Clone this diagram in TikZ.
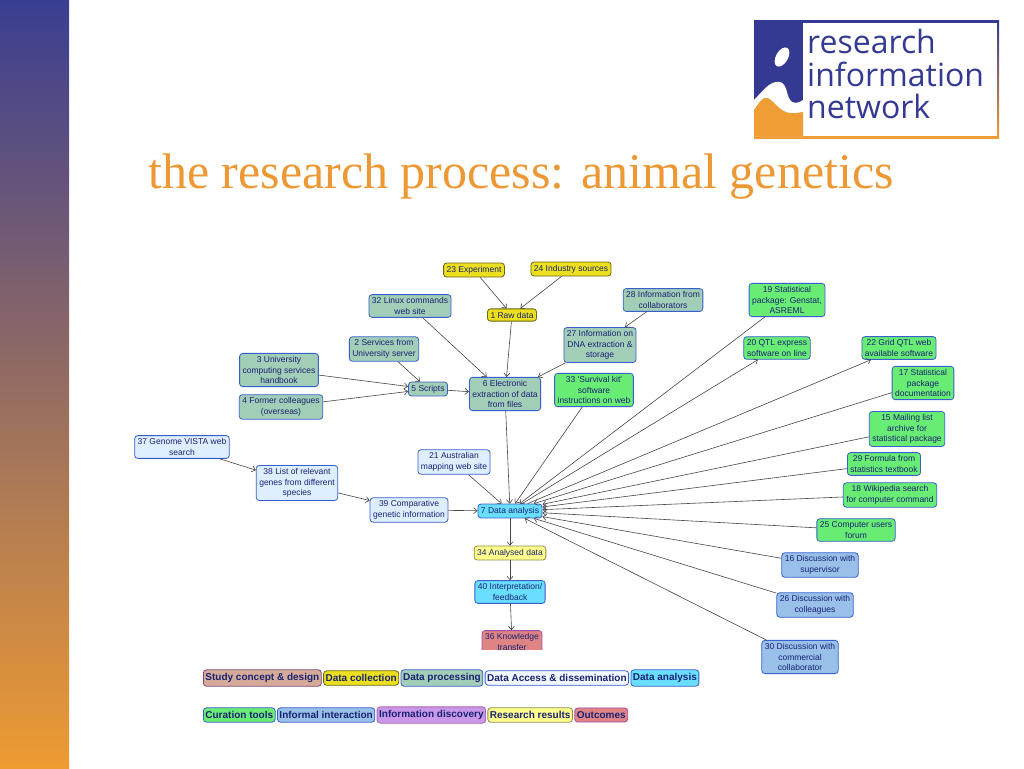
\documentclass[tikz,border=0pt]{standalone}
\usepackage{fontspec}
\setmainfont{Liberation Sans}
\newfontfamily\titlefont{Liberation Serif}
\newfontfamily\logofont{Open Sans}
\usetikzlibrary{positioning,arrows.meta}

\definecolor{barblue}{RGB}{58,62,145}
\definecolor{barorange}{RGB}{238,155,50}
\definecolor{logoblue}{RGB}{52,58,145}
\definecolor{logoorange}{RGB}{238,158,52}
\definecolor{titleorange}{RGB}{236,152,52}
\definecolor{navy}{RGB}{25,35,115}
\definecolor{boxblue}{RGB}{55,95,205}
\definecolor{linkgray}{RGB}{70,70,70}
\definecolor{collectcol}{RGB}{236,224,30}
\definecolor{proccol}{RGB}{162,205,182}
\definecolor{accesscol}{RGB}{222,238,255}
\definecolor{accesslight}{RGB}{242,248,255}
\definecolor{analysiscol}{RGB}{105,222,255}
\definecolor{curationcol}{RGB}{105,236,115}
\definecolor{informalcol}{RGB}{152,192,232}
\definecolor{discoverycol}{RGB}{202,152,232}
\definecolor{resultscol}{RGB}{255,255,140}
\definecolor{outcomecol}{RGB}{222,132,132}
\definecolor{conceptcol}{RGB}{214,170,152}

\begin{document}
\begin{tikzpicture}
  [x=1pt,y=-1pt,
   box/.style={draw=boxblue,rounded corners=3pt,line width=0.8pt,align=center,
     inner xsep=3pt,inner ysep=3pt,text=navy,font=\fontsize{8.5}{10.5}\selectfont},
   collect/.style={box,fill=collectcol,draw=black!55!collectcol},
   proc/.style={box,fill=proccol},
   access/.style={box,fill=accesscol},
   analysis/.style={box,fill=analysiscol},
   curation/.style={box,fill=curationcol},
   informal/.style={box,fill=informalcol},
   results/.style={box,fill=resultscol,draw=black!45!resultscol},
   outcome/.style={box,fill=outcomecol,draw=violet!70},
   key/.style={box,inner xsep=2pt,inner ysep=3.5pt,
     font=\fontsize{10}{12}\selectfont\bfseries},
   link/.style={-{Straight Barb[length=3.5pt,width=6pt]},draw=linkgray,line width=0.6pt}]
  \useasboundingbox (0,0) rectangle (1024,768);
  \fill[white] (0,0) rectangle (1024,768);

  % side bar and logo
  \shade[top color=barblue,bottom color=barorange] (0,0) rectangle (69,768);
  \shade[top color=logoblue,bottom color=logoorange] (754,21) rectangle (999,138);
  \fill[white] (803,23) rectangle (997,136);
  \fill[logoblue] (754,21) rectangle (803,136);
  \fill[white] (754,100) .. controls (762,92) and (770,80) .. (780,82)
    .. controls (788,84) and (786,98) .. (792,102)
    .. controls (796,104) and (800,102) .. (803,100) -- (803,136) -- (754,136) -- cycle;
  \fill[logoorange] (754,110) .. controls (758,104) and (763,96) .. (768,98)
    .. controls (775,102) and (780,112) .. (790,113)
    .. controls (796,114) and (800,112) .. (803,112) -- (803,136) -- (754,136) -- cycle;
  \fill[white,rotate around={-30:(782,57)}] (782,57) ellipse (6 and 10.5);
  \node[anchor=base west,inner sep=0,text=logoblue,font=\logofont\fontsize{32}{34}\selectfont]
    (logo1) at (807,53) {research};
  \node[anchor=base west,inner sep=0,text=logoblue,font=\logofont\fontsize{32}{34}\selectfont]
    (logo2) at (807,86) {information};
  \node[anchor=base west,inner sep=0,text=logoblue,font=\logofont\fontsize{32}{34}\selectfont]
    (logo3) at (807,118) {network};

  % title
  \node[anchor=base west,inner sep=0,text=titleorange,font=\titlefont\fontsize{50}{56}\selectfont]
    (title) at (148,188) {the research process: animal genetics};

  % boxes
  \node[collect] (23) at (474,270) {23 Experiment};
  \node[collect] (24) at (571,269) {24 Industry sources};
  \node[collect] (1) at (512,315) {1 Raw data};
  \node[proc] (32) at (410,306) {32 Linux commands\\web site};
  \node[proc] (28) at (663,300) {28 Information from\\collaborators};
  \node[curation] (19) at (787,300) {19 Statistical\\package: Genstat,\\ASREML};
  \node[proc] (2) at (384,349) {2 Services from\\University server};
  \node[proc] (27) at (600,345) {27 Information on\\DNA extraction \&\\storage};
  \node[curation] (20) at (777,348) {20 QTL express\\software on line};
  \node[curation] (22) at (899,348) {22 Grid QTL web\\available software};
  \node[proc] (3) at (279,370) {3 University\\computing services\\handbook};
  \node[proc] (5) at (428,389) {5 Scripts};
  \node[proc] (6) at (505,394) {6 Electronic\\extraction of data\\from files};
  \node[curation] (33) at (594,390) {33 \textquotesingle Survival kit\textquotesingle\\software\\instructions on web};
  \node[curation] (17) at (923,383) {17 Statistical\\package\\documentation};
  \node[proc] (4) at (281,407) {4 Former colleagues\\(overseas)};
  \node[curation] (15) at (907,429) {15 Mailing list\\archive for\\statistical package};
  \node[access] (37) at (182,447) {37 Genome VISTA web\\search};
  \node[access] (21) at (454,462) {21 Australian\\mapping web site};
  \node[curation] (29) at (884,464) {29 Formula from\\statistics textbook};
  \node[access] (38) at (297,483) {38 List of relevant\\genes from different\\species};
  \node[curation] (18) at (890,495) {18 Wikipedia search\\for computer command};
  \node[access] (39) at (409,510) {39 Comparative\\genetic information};
  \node[analysis] (7) at (510,511) {7 Data analysis};
  \node[curation] (25) at (856,530) {25 Computer users\\forum};
  \node[results] (34) at (510,553) {34 Analysed data};
  \node[informal] (16) at (820,565) {16 Discussion with\\supervisor};
  \node[analysis] (40) at (510,592) {40 Interpretation/\\feedback};
  \node[informal] (26) at (815,605) {26 Discussion with\\colleagues};
  \node[informal] (30) at (800,657) {30 Discussion with\\commercial\\collaborator};
  \begin{scope}
    \clip (0,0) rectangle (1024,649);
    \node[outcome] (36) at (512,642) {36 Knowledge\\transfer};
  \end{scope}

  \foreach \from/\to in {23/1,24/1,1/6,32/6,2/5,3/5,4/5,5/6,28/27,27/6,6/7,
      33/7,19/7,17/7,15/7,29/7,18/7,25/7,16/7,26/7,30/7,21/7,39/7,
      37/38,38/39,7/34,34/40,40/36,7/20,7/22}
    \draw[link] (\from) -- (\to);

  % legend
  \node[key,fill=conceptcol,draw=violet!45!gray,anchor=west] (kconcept) at (203,678) {Study concept \& design};
  \node[key,fill=collectcol,draw=black!55!collectcol,right=1.5pt of kconcept] (kcollect) {Data collection};
  \node[key,fill=proccol,right=1.5pt of kcollect] (kproc) {Data processing};
  \node[key,fill=accesslight,right=1.5pt of kproc] (kaccess) {Data Access \& dissemination};
  \node[key,fill=analysiscol,right=1.5pt of kaccess] (kanalysis) {Data analysis};
  \node[key,fill=curationcol,anchor=west] (kcuration) at (203,715) {Curation tools};
  \node[key,fill=informalcol,right=1.5pt of kcuration] (kinformal) {Informal interaction};
  \node[key,fill=discoverycol,draw=violet!60,right=1.5pt of kinformal] (kdiscovery) {Information discovery};
  \node[key,fill=resultscol,draw=black!45!resultscol,right=1.5pt of kdiscovery] (kresults) {Research results};
  \node[key,fill=outcomecol,draw=violet!70,right=1.5pt of kresults] (koutcome) {Outcomes};
\end{tikzpicture}
\end{document}
